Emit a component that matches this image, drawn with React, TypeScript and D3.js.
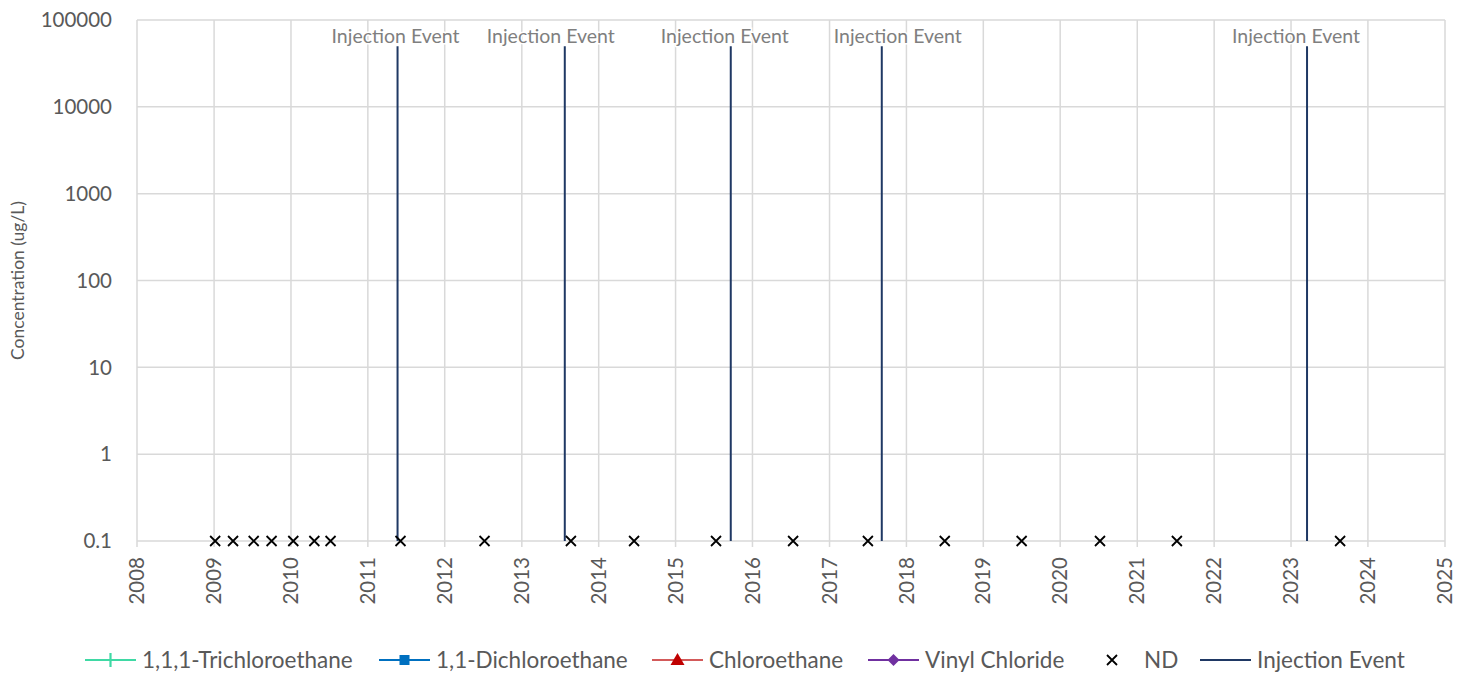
import React, { useEffect, useRef } from "react";
import * as d3 from "d3";

// ND (non-detect) sample dates, all plotted at 0.1 ug/L
const ndDates = [
  "2009-01-06", "2009-04-01", "2009-07-08", "2009-10-01",
  "2010-01-12", "2010-04-22", "2010-07-08",
  "2011-06-05", "2012-07-08", "2013-08-22", "2014-06-18",
  "2015-07-12", "2016-07-12", "2017-07-02", "2018-07-02",
  "2019-07-02", "2020-07-08", "2021-07-08", "2023-08-22",
];
const ndValue = 0.1;

const injectionDates = ["2011-05-22", "2013-07-24", "2015-09-20", "2017-09-06", "2023-03-18"];
const injectionTop = 50000;
const injectionLabel = "Injection Event";
const injectionLabelShift = [-2, -14, -6, 16, -11];

const yTicks = [0.1, 1, 10, 100, 1000, 10000, 100000];
const yearTicks = d3.range(2008, 2026);

const legendItems = [
  { name: "1,1,1-Trichloroethane", color: "#3fd9a4", marker: "plus" },
  { name: "1,1-Dichloroethane", color: "#0070c0", marker: "square" },
  { name: "Chloroethane", color: "#c00000", marker: "triangle" },
  { name: "Vinyl Chloride", color: "#7030a0", marker: "diamond" },
  { name: "ND", color: "#000000", marker: "x" },
  { name: "Injection Event", color: "#1f3864", marker: "line" },
];

const W = 1468;
const H = 675;
const FONT = "Lato, 'Open Sans', sans-serif";
const TEXT = "#595959";
const GRID = "#d9d9d9";

const App: React.FC = () => {
  const svgRef = useRef<SVGSVGElement | null>(null);

  useEffect(() => {
    document.body.style.margin = "0";
    if (!svgRef.current) return;
    const svg = d3.select(svgRef.current);
    svg.selectAll("*").remove();

    const margin = { top: 20, right: 23, bottom: 134, left: 137 };
    const parse = d3.timeParse("%Y-%m-%d");

    const x = d3
      .scaleTime()
      .domain([new Date(2008, 0, 1), new Date(2025, 0, 1)])
      .range([margin.left, W - margin.right]);
    const y = d3
      .scaleLog()
      .domain([0.1, 100000])
      .range([H - margin.bottom, margin.top]);

    // horizontal grid
    svg.append("g")
      .selectAll("line")
      .data(yTicks)
      .join("line")
      .attr("x1", margin.left)
      .attr("x2", W - margin.right)
      .attr("y1", d => y(d))
      .attr("y2", d => y(d))
      .attr("stroke", GRID)
      .attr("stroke-width", 1.5);

    // vertical grid + tick marks
    svg.append("g")
      .selectAll("line")
      .data(yearTicks)
      .join("line")
      .attr("x1", d => x(new Date(d, 0, 1)))
      .attr("x2", d => x(new Date(d, 0, 1)))
      .attr("y1", margin.top)
      .attr("y2", H - margin.bottom + 6)
      .attr("stroke", GRID)
      .attr("stroke-width", 1.5);

    // y labels
    svg.append("g")
      .selectAll("text")
      .data(yTicks)
      .join("text")
      .attr("x", 112)
      .attr("y", d => y(d))
      .attr("dy", "0.35em")
      .attr("text-anchor", "end")
      .style("font-family", FONT)
      .style("font-size", "20.5px")
      .style("fill", TEXT)
      .text(d => (d < 1 ? "0.1" : String(d)));

    // x labels, rotated
    svg.append("g")
      .selectAll("text")
      .data(yearTicks)
      .join("text")
      .attr("transform", d => `translate(${x(new Date(d, 0, 1))},${H - margin.bottom + 16}) rotate(-90)`)
      .attr("dy", "0.35em")
      .attr("text-anchor", "end")
      .style("font-family", FONT)
      .style("font-size", "20.5px")
      .style("fill", TEXT)
      .text(d => String(d));

    // y title
    svg.append("text")
      .attr("transform", `translate(18,${(margin.top + H - margin.bottom) / 2}) rotate(-90)`)
      .attr("dy", "0.35em")
      .attr("text-anchor", "middle")
      .style("font-family", FONT)
      .style("font-size", "17.5px")
      .style("fill", TEXT)
      .text("Concentration (ug/L)");

    // injection events
    const inj = svg.append("g");
    inj.selectAll("line")
      .data(injectionDates)
      .join("line")
      .attr("x1", d => x(parse(d)!))
      .attr("x2", d => x(parse(d)!))
      .attr("y1", y(ndValue))
      .attr("y2", y(injectionTop))
      .attr("stroke", "#1f3864")
      .attr("stroke-width", 2);
    inj.selectAll("text")
      .data(injectionDates)
      .join("text")
      .attr("x", (d, i) => x(parse(d)!) + injectionLabelShift[i])
      .attr("y", y(injectionTop) - 3)
      .attr("text-anchor", "middle")
      .style("font-family", FONT)
      .style("font-size", "19.5px")
      .style("fill", "#7f7f7f")
      .style("paint-order", "stroke")
      .style("stroke", "#fff")
      .style("stroke-width", "3px")
      .text(injectionLabel);

    // ND markers
    const xMark = (cx: number, cy: number, s: number) =>
      `M${cx - s},${cy - s}L${cx + s},${cy + s}M${cx - s},${cy + s}L${cx + s},${cy - s}`;
    svg.append("g")
      .selectAll("path")
      .data(ndDates)
      .join("path")
      .attr("d", d => xMark(x(parse(d)!), y(ndValue), 5))
      .attr("stroke", "#000")
      .attr("stroke-width", 1.8)
      .attr("fill", "none");

    // legend
    const legendX = [85, 379, 652, 868, 1112, 1200];
    const ly = 660;
    const lg = svg.append("g");
    legendItems.forEach((it, i) => {
      const g = lg.append("g").attr("transform", `translate(${legendX[i]},${ly})`);
      let textX = 57;
      if (it.marker === "x") {
        g.append("path").attr("d", xMark(0, 0, 5)).attr("stroke", "#000").attr("stroke-width", 1.8);
        textX = 32;
      } else {
        const lineColor = it.marker === "triangle" ? "#d35a5a" : it.color;
        g.append("line").attr("x1", 0).attr("x2", 51).attr("y1", 0).attr("y2", 0)
          .attr("stroke", lineColor).attr("stroke-width", 2.2);
        const cx = 25.5;
        if (it.marker === "plus") {
          g.append("path").attr("d", `M${cx},-7V7`).attr("stroke", it.color).attr("stroke-width", 2.2);
        } else if (it.marker === "square") {
          g.append("rect").attr("x", cx - 5).attr("y", -5).attr("width", 10).attr("height", 10).attr("fill", it.color);
        } else if (it.marker === "triangle") {
          g.append("path").attr("d", `M${cx},-7L${cx + 7},5L${cx - 7},5Z`).attr("fill", it.color);
        } else if (it.marker === "diamond") {
          g.append("path").attr("d", `M${cx},-6L${cx + 6},0L${cx},6L${cx - 6},0Z`).attr("fill", it.color);
        }
      }
      g.append("text")
        .attr("x", textX)
        .attr("dy", "0.35em")
        .style("font-family", FONT)
        .style("font-size", "22.5px")
        .style("fill", TEXT)
        .text(it.name);
    });
  }, []);

  return (
    <svg
      ref={svgRef}
      width={W}
      height={H}
      style={{ display: "block", background: "#fff" }}
    />
  );
};

export default App;
